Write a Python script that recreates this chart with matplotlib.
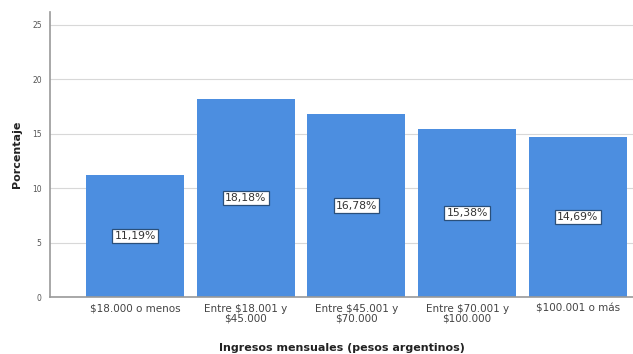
import matplotlib
matplotlib.use("Agg")
import matplotlib.pyplot as plt

categories = ["$18.000 o menos", "Entre $18.001 y\n$45.000", "Entre $45.001 y\n$70.000",
              "Entre $70.001 y\n$100.000", "$100.001 o más"]
values = [11.19, 18.18, 16.78, 15.38, 14.69]
yticks = [0, 5, 10, 15, 20, 25]

fig = plt.figure(figsize=(6.33, 3.54), dpi=100)
ax = fig.add_axes([0.079, 0.161, 0.921, 0.805])

x = list(range(len(categories)))
ax.bar(x, values, width=0.885, color="#4c8ee0", zorder=2)

for xi, v in zip(x, values):
    ax.text(xi, v / 2, f"{v:.2f}%".replace(".", ","), ha="center", va="center",
            fontsize=7.8, color="#333333", zorder=3,
            bbox=dict(boxstyle="square,pad=0.2", fc="white", ec="#2a4f7a", lw=0.9))

ax.set_xlim(-0.77, 4.5)
ax.set_ylim(0, 26.15)
ax.set_yticks(yticks)
ax.set_yticklabels([str(t) for t in yticks], fontsize=5.5, color="#555555")
ax.set_xticks(x)
ax.set_xticklabels(categories, fontsize=7.5, color="#444444", linespacing=0.95)
ax.tick_params(axis="both", length=0)
ax.tick_params(axis="x", pad=5)
ax.tick_params(axis="y", pad=6)
ax.yaxis.grid(True, color="#d8d8d8", lw=0.8, zorder=0)

for s in ["top", "right"]:
    ax.spines[s].set_visible(False)
ax.spines["left"].set_color("#999999")
ax.spines["bottom"].set_color("#999999")
ax.spines["left"].set_linewidth(1.2)
ax.spines["bottom"].set_linewidth(1.2)

ax.set_ylabel("Porcentaje", fontsize=8, fontweight="bold", color="#222222", labelpad=7)
ax.set_xlabel("Ingresos mensuales (pesos argentinos)", fontsize=8, fontweight="bold",
              color="#222222", labelpad=14)

fig.savefig("out.png", dpi=100)
